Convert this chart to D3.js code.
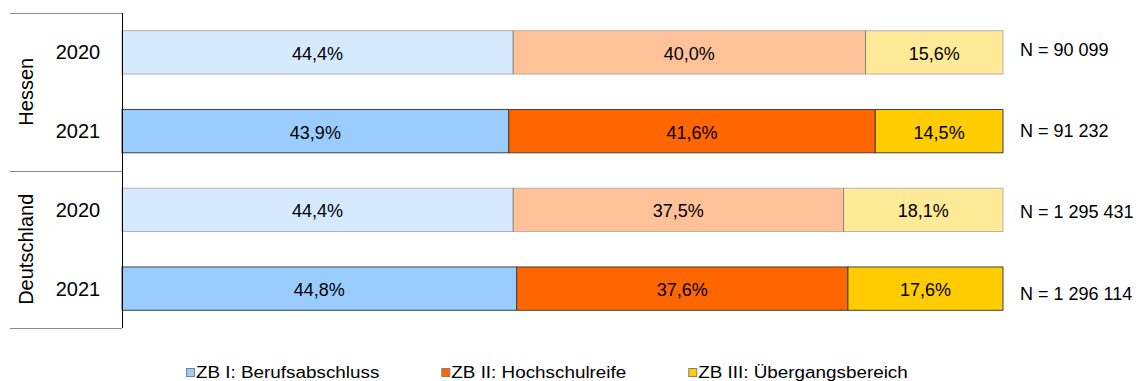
<!DOCTYPE html>
<html>
<head>
<meta charset="utf-8">
<script src="https://cdn.jsdelivr.net/npm/d3@7"></script>
<style>
  html, body { margin: 0; padding: 0; background: #fff; }
  svg { display: block; font-family: "Liberation Sans", Arial, sans-serif; }
</style>
</head>
<body>
<svg id="chart" width="1140" height="381"></svg>
<script>
// Verbleib nach Zielbereichen, Anteile in %
const regions = ["Hessen", "Deutschland"];
const years = ["2020", "2021"];
const series = ["ZB I: Berufsabschluss", "ZB II: Hochschulreife", "ZB III: Übergangsbereich"];
const seriesColors = ["#99ccff", "#ff6600", "#ffcc00"];

const zb1 = [44.4, 43.9, 44.4, 44.8];
const zb2 = [40.0, 41.6, 37.5, 37.6];
const zb3 = [15.6, 14.5, 18.1, 17.6];
const totals = ["N = 90 099", "N = 91 232", "N = 1 295 431", "N = 1 296 114"];

const rows = [];
regions.forEach(r => years.forEach(y => rows.push({ region: r, year: y, key: r + "-" + y })));
rows.forEach((row, i) => {
  row.values = [zb1[i], zb2[i], zb3[i]];
  row.total = totals[i];
});

const svg = d3.select("#chart");

const x = d3.scaleLinear().domain([0, 100]).range([122, 1003]);
const y = d3.scaleBand().domain(rows.map(d => d.key)).range([13, 328])
  .paddingInner(0.45).paddingOuter(0.225);
const yTotal = d3.scalePoint().domain(rows.map(d => d.key)).range([49.5, 293.5]);
const color = d3.scaleOrdinal().domain(series).range(seriesColors);
const fmt = v => d3.format(".1f")(v).replace(".", ",") + "%";

// stacked segments
const segs = rows.flatMap(row => {
  let acc = 0;
  return row.values.map((v, j) => {
    const s = { row, series: series[j], v, x0: acc, x1: acc + v };
    acc += v;
    return s;
  });
});

const bars = svg.append("g").selectAll("g").data(segs).join("g");

bars.append("rect")
  .attr("x", d => x(d.x0))
  .attr("y", d => y(d.row.key))
  .attr("width", d => x(d.x1) - x(d.x0))
  .attr("height", y.bandwidth())
  .attr("fill", d => color(d.series))
  .attr("stroke", "#404040")
  .attr("stroke-width", 1)
  .attr("opacity", d => d.row.year === "2020" ? 0.4 : 1);

bars.append("text")
  .attr("x", d => (x(d.x0) + x(d.x1)) / 2)
  .attr("y", d => y(d.row.key) + y.bandwidth() / 2)
  .attr("dy", "0.42em")
  .attr("text-anchor", "middle")
  .attr("font-size", 18)
  .attr("fill", "#000")
  .text(d => fmt(d.v));

// totals on the right
svg.append("g").selectAll("text").data(rows).join("text")
  .attr("x", 1020)
  .attr("y", d => yTotal(d.key))
  .attr("dy", "0.35em")
  .attr("font-size", 18)
  .attr("fill", "#000")
  .text(d => d.total);

// category axis: years, region groups and separators
const axis = svg.append("g");
axis.append("line")
  .attr("x1", 122.5).attr("x2", 122.5)
  .attr("y1", 13).attr("y2", 328)
  .attr("stroke", "#000").attr("stroke-width", 1);

const groupBounds = regions.map(r => {
  const keys = rows.filter(d => d.region === r).map(d => d.key);
  const top = y(keys[0]) - y.step() * y.paddingOuter();
  const bottom = top + y.step() * keys.length;
  return { region: r, top, bottom };
});

const sepYs = [groupBounds[0].top, ...groupBounds.map(g => g.bottom)];
axis.selectAll("line.sep").data(sepYs).join("line")
  .attr("class", "sep")
  .attr("x1", 10).attr("x2", 122)
  .attr("y1", d => Math.round(d) + 0.5).attr("y2", d => Math.round(d) + 0.5)
  .attr("stroke", "#8c8c8c").attr("stroke-width", 1);

axis.selectAll("text.year").data(rows).join("text")
  .attr("class", "year")
  .attr("x", 78)
  .attr("y", d => y(d.key) + y.bandwidth() / 2)
  .attr("dy", "0.35em")
  .attr("text-anchor", "middle")
  .attr("font-size", 20)
  .attr("fill", "#000")
  .text(d => d.year);

axis.selectAll("text.region").data(groupBounds).join("text")
  .attr("class", "region")
  .attr("transform", d => `translate(33,${(d.top + d.bottom) / 2}) rotate(-90)`)
  .attr("text-anchor", "middle")
  .attr("font-size", 20)
  .attr("fill", "#000")
  .text(d => d.region);

// legend (text slightly widened)
const legend = svg.append("g");
const stretch = 1.11;
let lx = 186;
series.forEach((s, i) => {
  const item = legend.append("g").attr("transform", `translate(${lx},0)`);
  item.append("rect")
    .attr("x", 0.5).attr("y", 368.5).attr("width", 8).attr("height", 8)
    .attr("fill", color(s)).attr("stroke", "#808080").attr("stroke-width", 1);
  const t = item.append("text")
    .attr("transform", `translate(10,377.5) scale(${stretch},1)`)
    .attr("font-size", 17)
    .attr("fill", "#000")
    .text(s);
  lx += 10 + t.node().getComputedTextLength() * stretch + 62;
});
</script>
</body>
</html>
